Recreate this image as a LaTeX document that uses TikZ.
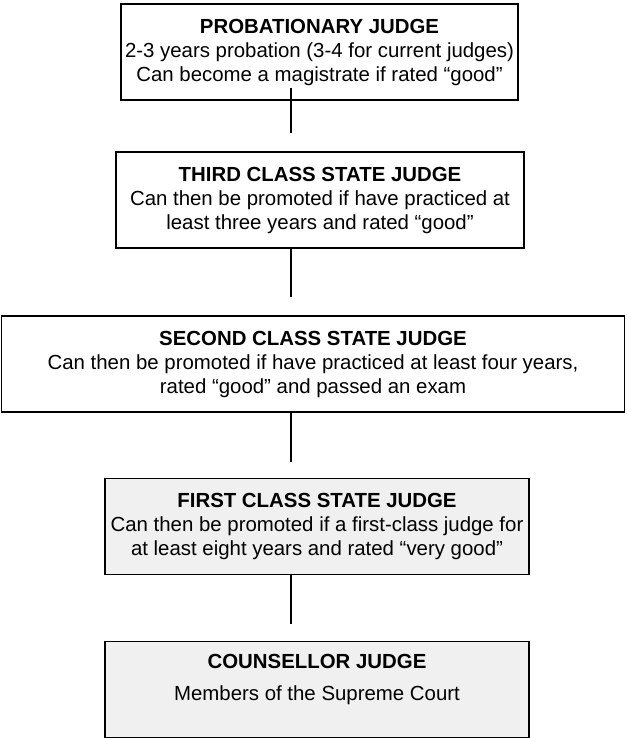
\documentclass[tikz,border=0pt]{standalone}
\usepackage{fontspec}
\setmainfont{Liberation Sans}
\definecolor{panelgrey}{HTML}{F0F0F0}
\begin{document}
\begin{tikzpicture}[x=1pt, y=-1pt,
        rank/.style = {draw=black, line width=1.3pt, align=center, inner sep=0pt,
            minimum height=96pt, font=\fontsize{20.4}{24}\selectfont},
        senior/.style = {rank, fill=panelgrey},
        link/.style = {black, line width=1.3pt}]
    \useasboundingbox (0,0) rectangle (626,738);
    % career ladder, from the bottom rung upwards
    \node[rank, minimum width=397pt] (probation) at (319.5,52)
        {\textbf{PROBATIONARY JUDGE}\\2-3 years probation (3-4 for current judges)\\Can become a magistrate if rated “good”};
    \node[rank, minimum width=408pt] (third) at (320,200)
        {\textbf{THIRD CLASS STATE JUDGE}\\Can then be promoted if have practiced at\\least three years and rated “good”};
    \node[rank, minimum width=623pt] (second) at (313,364)
        {\textbf{SECOND CLASS STATE JUDGE}\\Can then be promoted if have practiced at least four years,\\rated “good” and passed an exam};
    \node[senior, minimum width=424pt] (first) at (317,526.5)
        {\textbf{FIRST CLASS STATE JUDGE}\\Can then be promoted if a first-class judge for\\at least eight years and rated “very good”};
    \node[senior, minimum width=424pt] (counsellor) at (317,689.5)
        {\textbf{COUNSELLOR JUDGE}\\[8pt]Members of the Supreme Court\\\mbox{}};
    % connectors
    \coordinate (stem) at (291,0);
    \draw[link] ([yshift=13pt]probation.south -| stem) -- ([yshift=18pt]third.north -| stem);
    \draw[link] (third.south -| stem) -- ([yshift=18pt]second.north -| stem);
    \draw[link] (second.south -| stem) -- ([yshift=16pt]first.north -| stem);
    \draw[link] (first.south -| stem) -- ([yshift=17pt]counsellor.north -| stem);
\end{tikzpicture}
\end{document}
